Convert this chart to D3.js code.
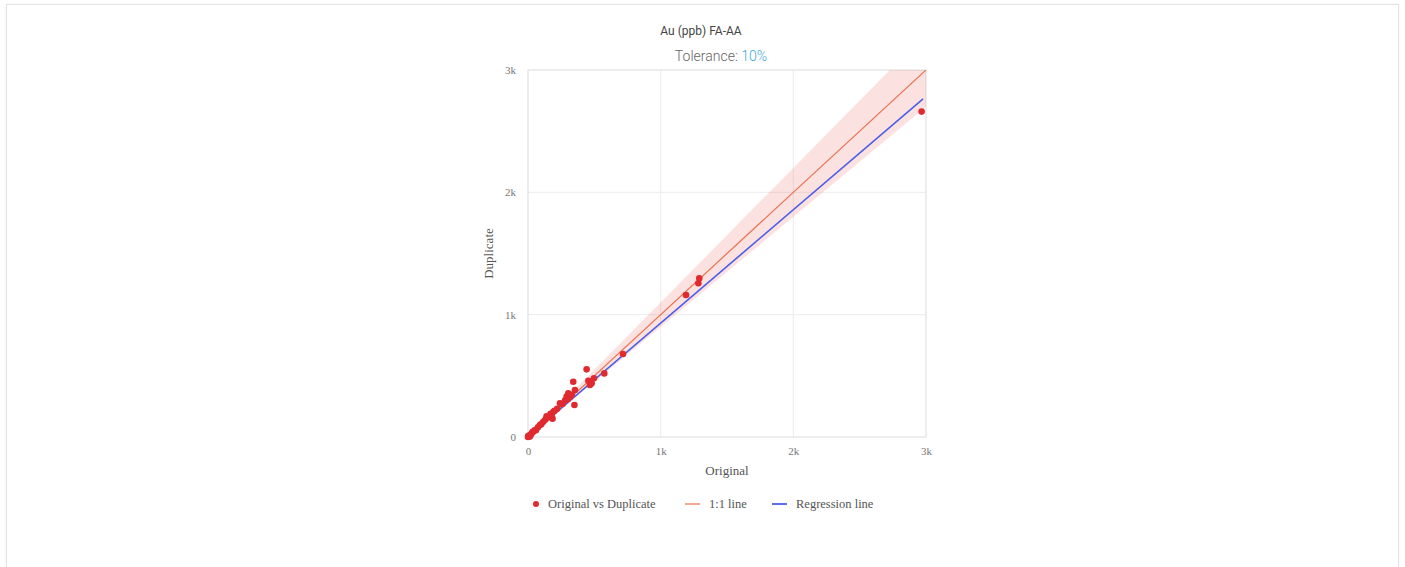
<!DOCTYPE html>
<html>
<head>
<meta charset="utf-8">
<script src="https://cdn.jsdelivr.net/npm/d3@7"></script>
<style>
  body { margin: 0; background: #fff; }
  #card {
    position: absolute; left: 6px; top: 4px; width: 1391px; height: 600px;
    border: 1px solid #e2e2e2; box-shadow: 0 0 3px rgba(0,0,0,0.05);
  }
  #canvas { position: absolute; left: 0; top: 0; }
</style>
</head>
<body>
<div id="card"></div>
<svg id="canvas"></svg>
<script>
// values: [original, duplicate]
const original = [2967, 1291, 1284, 1191, 716, 442, 575, 341, 455, 480, 467, 497, 354, 304,
  291, 316, 350, 241, 191, 178, 166, 115, 90, 53, 28, 5, 10, 20, 40, 60, 75, 100, 130, 150,
  170, 200, 220, 260, 280, 330, 300, 0, 2, 15, 35, 185, 140];
const duplicate = [2660, 1298, 1257, 1161, 679, 553, 520, 452, 460, 439, 425, 480, 384, 357,
  330, 327, 262, 275, 207, 180, 166, 125, 98, 57, 30, 5, 12, 18, 45, 55, 80, 105, 140, 160,
  190, 215, 230, 270, 300, 345, 310, 0, 8, 5, 40, 150, 170];
const ticks = [0, 1000, 2000, 3000];
const tolerance = 0.1;
const regression = { slope: 0.927, intercept: 4, xEnd: 2978 };
const legendItems = ["Original vs Duplicate", "1:1 line", "Regression line"];

function getChartConfig() {
  let canvasWidth = 1405, canvasHeight = 567;
  let margin = { top: 70, left: 528 };
  let width = 398, height = 367;
  let svg = d3.select("#canvas").attr("width", canvasWidth).attr("height", canvasHeight);
  return { canvasWidth, canvasHeight, margin, width, height, svg };
}

function getChartScales(config) {
  let { width, height } = config;
  let xScale = d3.scaleLinear().domain([0, 3000]).range([0, width]);
  let yScale = d3.scaleLinear().domain([0, 3000]).range([height, 0]);
  return { xScale, yScale };
}

function drawTitles(config) {
  let { svg } = config;
  svg.append("text")
    .attr("x", 701).attr("y", 35)
    .attr("text-anchor", "middle")
    .style("font-family", "Roboto, sans-serif")
    .style("font-size", "12px")
    .attr("fill", "#444")
    .text("Au (ppb) FA-AA");

  let tol = svg.append("text")
    .attr("x", 721).attr("y", 61)
    .attr("text-anchor", "middle")
    .style("font-family", "Roboto, sans-serif")
    .style("font-weight", 300)
    .style("font-size", "14px")
    .attr("fill", "#666");
  tol.append("tspan").text("Tolerance: ");
  tol.append("tspan").attr("fill", "#3aa7dc").text(d3.format(".0%")(tolerance));
}

function drawAxes(scales, config) {
  let { xScale, yScale } = scales;
  let { svg, margin, width, height } = config;
  let g = svg.append("g").attr("transform", `translate(${margin.left},${margin.top})`);

  g.append("g").selectAll("line.gx").data(ticks.slice(1, -1)).join("line")
    .attr("x1", d => xScale(d)).attr("x2", d => xScale(d))
    .attr("y1", 0).attr("y2", height)
    .attr("stroke", "#ececec");
  g.append("g").selectAll("line.gy").data(ticks.slice(1, -1)).join("line")
    .attr("y1", d => yScale(d)).attr("y2", d => yScale(d))
    .attr("x1", 0).attr("x2", width)
    .attr("stroke", "#ececec");

  let axisX = d3.axisBottom(xScale).tickValues(ticks).tickFormat(d3.format("~s")).tickSize(0).tickPadding(10);
  let axisY = d3.axisLeft(yScale).tickValues(ticks).tickFormat(d3.format("~s")).tickSize(0).tickPadding(12);

  let ax = g.append("g").attr("transform", `translate(0,${height})`).call(axisX);
  let ay = g.append("g").call(axisY);
  [ax, ay].forEach(a => {
    a.select(".domain").remove();
    a.selectAll("text")
      .style("font-family", "'Liberation Serif', serif")
      .style("font-size", "11px")
      .attr("fill", "#777");
  });

  g.append("rect")
    .attr("width", width).attr("height", height)
    .attr("fill", "none").attr("stroke", "#dcdcdc");

  svg.append("text")
    .attr("x", margin.left + width / 2).attr("y", 475)
    .attr("text-anchor", "middle")
    .style("font-family", "'Liberation Serif', serif")
    .style("font-size", "13px")
    .attr("fill", "#555")
    .text("Original");

  svg.append("text")
    .attr("transform", `translate(493,${margin.top + height / 2}) rotate(-90)`)
    .attr("text-anchor", "middle")
    .style("font-family", "'Liberation Serif', serif")
    .style("font-size", "13px")
    .attr("fill", "#555")
    .text("Duplicate");
}

function drawChart(scales, config) {
  let { xScale, yScale } = scales;
  let { svg, margin, width, height } = config;
  let g = svg.append("g").attr("transform", `translate(${margin.left},${margin.top})`);

  svg.append("clipPath").attr("id", "clip")
    .append("rect").attr("width", width).attr("height", height);
  let plot = g.append("g").attr("clip-path", "url(#clip)");

  let maxX = 3000 / (1 - tolerance);
  let band = d3.area()
    .x(d => xScale(d))
    .y0(d => yScale(d * (1 - tolerance)))
    .y1(d => yScale(d * (1 + tolerance)));
  plot.append("path")
    .datum([0, maxX])
    .attr("fill", "rgba(240,120,120,0.22)")
    .attr("d", band);

  let line = d3.line().x(d => xScale(d[0])).y(d => yScale(d[1]));
  plot.append("path")
    .datum([[0, 0], [3000, 3000]])
    .attr("fill", "none").attr("stroke", "#e8724e").attr("stroke-width", 1.2)
    .attr("d", line);

  plot.append("path")
    .datum([0, regression.xEnd].map(x => [x, regression.slope * x + regression.intercept]))
    .attr("fill", "none").attr("stroke", "#4a5fe6").attr("stroke-width", 1.6)
    .attr("d", line);

  g.selectAll("circle.pt").data(original.map((o, i) => [o, duplicate[i]])).join("circle")
    .attr("cx", d => xScale(d[0]))
    .attr("cy", d => yScale(d[1]))
    .attr("r", 3.3)
    .attr("fill", "#df2a30");
}

function drawLegend(config) {
  let { svg } = config;
  let xs = [536, 685, 772];
  let colors = ["#df2a30", "#e8724e", "#4a5fe6"];
  let lg = svg.append("g").selectAll("g").data(legendItems).join("g")
    .attr("transform", (d, i) => `translate(${xs[i]},504)`);
  lg.each(function (d, i) {
    let s = d3.select(this);
    if (i === 0) {
      s.append("circle").attr("r", 3).attr("fill", colors[i]);
    } else {
      s.append("line").attr("x1", 0).attr("x2", 15)
        .attr("stroke", colors[i]).attr("stroke-width", i === 1 ? 1.2 : 1.8);
    }
  });
  lg.append("text")
    .attr("x", (d, i) => i === 0 ? 12 : 24)
    .attr("dy", "0.35em")
    .style("font-family", "'Liberation Serif', serif")
    .style("font-size", "12.5px")
    .attr("fill", "#555")
    .text(d => d);
}

let config = getChartConfig();
let scales = getChartScales(config);
drawTitles(config);
drawAxes(scales, config);
drawChart(scales, config);
drawLegend(config);
</script>
</body>
</html>
